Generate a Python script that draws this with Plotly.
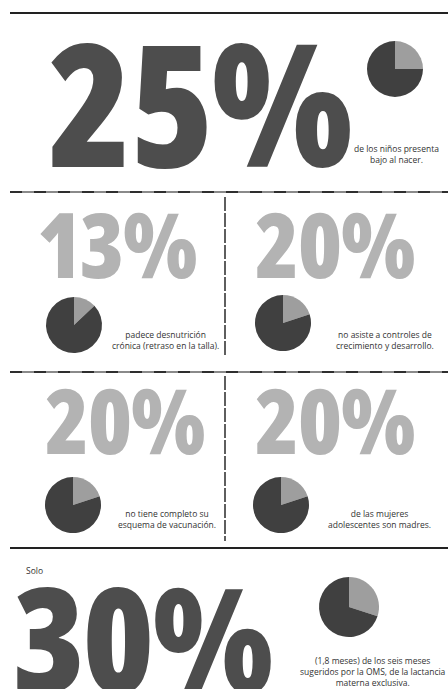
import plotly.graph_objects as go

W, H = 448, 689

# ---- data ----
stat_labels = ["25%", "13%", "20%", "20%", "20%", "30%"]
pie_shares = [25, 13, 20, 20, 20, 30]
captions = [
    "de los niños presenta<br>bajo al nacer.",
    "padece desnutrición<br>crónica (retraso en la talla).",
    "no asiste a controles de<br>crecimiento y desarrollo.",
    "no tiene completo su<br>esquema de vacunación.",
    "de las mujeres<br>adolescentes son madres.",
    "(1,8 meses) de los seis meses<br>sugeridos por la OMS, de la lactancia<br>materna exclusiva.",
]
lead_text = "Solo"

# ---- layout (pixel positions) ----
# (left x, centre y, font size, colour)
big_pos = [(47, 101, 171, "#4d4d4d"), (36, 243, 90, "#b3b3b3"), (254, 243, 90, "#b3b3b3"),
           (44, 419, 90, "#b3b3b3"), (254, 419, 90, "#b3b3b3"), (12, 636, 146, "#4d4d4d")]
pie_pos = [(395, 69, 28), (74, 325, 28), (283, 323, 28), (73, 505, 28), (281, 505, 28), (349, 607, 30)]
cap_pos = [(396, 154), (165, 340), (385, 340), (167, 519), (379, 519), (373, 671)]

def px(x):
    return x / W

def py(y):
    return 1 - y / H

fig = go.Figure()

for share, (cx, cy, r) in zip(pie_shares, pie_pos):
    fig.add_trace(go.Pie(
        values=[share, 100 - share],
        labels=["a", "b"],
        marker=dict(colors=["#9e9e9e", "#404040"], line=dict(width=0)),
        sort=False, direction="clockwise", rotation=0,
        textinfo="none", hoverinfo="skip", showlegend=False,
        domain=dict(x=[px(cx - r), px(cx + r)], y=[py(cy + r), py(cy - r)]),
    ))

annotations = []
for lab, (lx, cy, fs, col) in zip(stat_labels, big_pos):
    annotations.append(dict(
        text=f'<span style="font-stretch:87.5%;letter-spacing:-0.02em">{lab}</span>',
        x=px(lx), y=py(cy), xref="paper", yref="paper",
        xanchor="left", yanchor="middle", showarrow=False, borderpad=0,
        font=dict(family="Open Sans", size=fs, color=col, weight=800),
    ))
for cap, (cx, cy) in zip(captions, cap_pos):
    annotations.append(dict(
        text=cap, x=px(cx), y=py(cy), xref="paper", yref="paper",
        xanchor="center", yanchor="middle", align="center",
        showarrow=False, font=dict(family="Open Sans", size=8.5, color="#333333"),
    ))
annotations.append(dict(
    text=lead_text, x=px(24), y=py(570), xref="paper", yref="paper",
    xanchor="left", yanchor="middle", showarrow=False,
    font=dict(family="Open Sans", size=8.5, color="#333333"),
))

shapes = []
def hline(y, dash=False):
    if dash:
        shapes.append(dict(type="line", xref="paper", yref="paper", x0=px(10), x1=1,
                           y0=py(y), y1=py(y), line=dict(color="#8a8a8a", width=2)))
        shapes.append(dict(type="line", xref="paper", yref="paper", x0=px(10), x1=1,
                           y0=py(y), y1=py(y), line=dict(color="#2e2e2e", width=2, dash="12px,12px")))
    else:
        shapes.append(dict(type="line", xref="paper", yref="paper", x0=px(10), x1=1,
                           y0=py(y), y1=py(y), line=dict(color="#222222", width=2)))

def vline(x, y0, y1):
    shapes.append(dict(type="line", xref="paper", yref="paper", x0=px(x), x1=px(x),
                       y0=py(y0), y1=py(y1), line=dict(color="#2a2a2a", width=1.5, dash="14px,2px")))

hline(13)
hline(192, dash=True)
hline(372, dash=True)
hline(548)
vline(225, 197, 355)
vline(225, 376, 541)

fig.update_layout(
    width=W, height=H, margin=dict(l=0, r=0, t=0, b=0),
    paper_bgcolor="white", plot_bgcolor="white",
    xaxis=dict(visible=False), yaxis=dict(visible=False),
    annotations=annotations, shapes=shapes,
)

fig.write_html("out.html", config={"displayModeBar": False},
               post_script="document.body.style.margin='0';")
